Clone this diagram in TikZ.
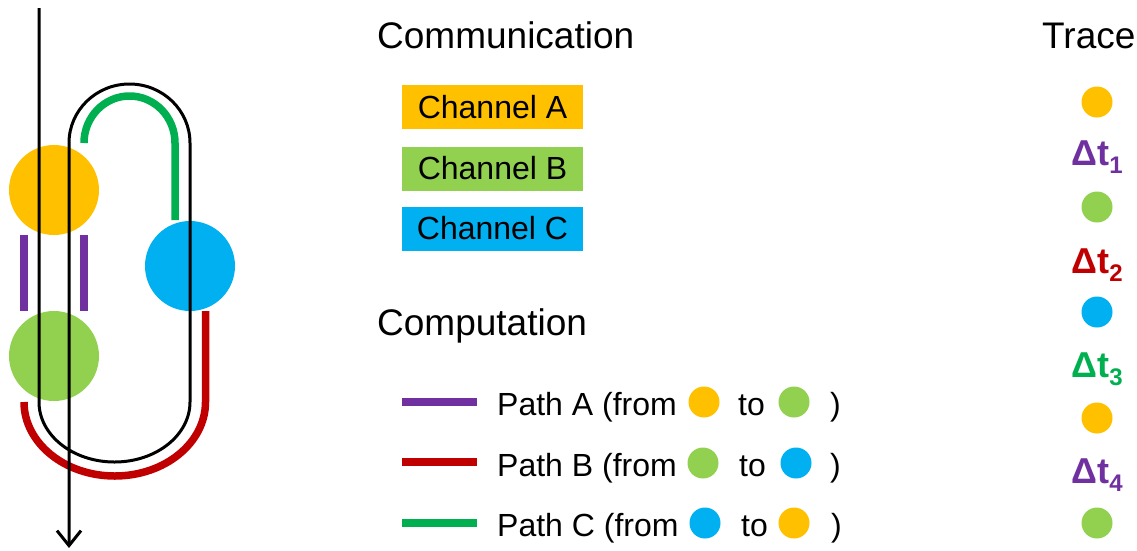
\documentclass[tikz,border=0pt]{standalone}
\usepackage{fontspec}
\setmainfont{Liberation Sans}
\usetikzlibrary{arrows.meta}

\definecolor{cyellow}{HTML}{FFC000}
\definecolor{cgreen}{HTML}{92D050}
\definecolor{cblue}{HTML}{00B0F0}
\definecolor{cpurple}{HTML}{7030A0}
\definecolor{cred}{HTML}{C00000}
\definecolor{cpath}{HTML}{00B050}

\tikzset{
  bigdot/.style={circle, inner sep=0pt, minimum size=90pt, fill=#1},
  smalldot/.style={circle, inner sep=0pt, minimum size=31pt, fill=#1},
  pathline/.style={line width=7.5pt, draw=#1},
  loopline/.style={line width=3pt, draw=black},
  heading/.style={anchor=base west, inner sep=0pt, font=\fontsize{37}{40}\selectfont},
  label/.style={anchor=base west, inner sep=0pt, font=\fontsize{32}{36}\selectfont},
  chanbox/.style={fill=#1, minimum width=181pt, minimum height=44pt, inner sep=0pt,
                  font=\fontsize{32}{36}\selectfont},
  delta/.style={anchor=base, inner sep=0pt, text=#1,
                font=\fontsize{36}{40}\selectfont\bfseries},
}
\newcommand{\dsub}[1]{\raisebox{-8pt}{\fontsize{24}{24}\selectfont #1}}

\begin{document}
\begin{tikzpicture}[x=1pt, y=-1pt]
\useasboundingbox (0,0) rectangle (1137,550);

% ---- the ring of channels ----
\node[bigdot=cyellow] (A) at (54,190) {};
\node[bigdot=cgreen]  (B) at (54,356) {};
\node[bigdot=cblue]   (C) at (190,266) {};

% computation paths between channels
\draw[pathline=cpurple] (24,235) -- (24,311);
\draw[pathline=cpurple] (84,235) -- (84,311);
\draw[pathline=cred] (205.5,311) -- (205.5,402)
   arc[start angle=0, end angle=-180, x radius=90.75pt, y radius=74pt];
\draw[pathline=cpath] (84,143)
   arc[start angle=180, end angle=0, x radius=45.5pt, y radius=47pt] -- (175,220);

% the thread looping through the channels
\coordinate (in)  at (39,8);
\coordinate (out) at (69,548);
\draw[loopline, -{Straight Barb[length=15pt, width=24pt, line width=3pt]}]
   (in) -- (39,402)
   arc[start angle=180, end angle=360, x radius=75.5pt, y radius=60pt]
   -- (190,143)
   arc[start angle=0, end angle=180, x radius=60.5pt, y radius=59pt]
   -- (out);

% ---- communication ----
\node[heading] (comm) at (377,48) {Communication};
\node[chanbox=cyellow] (chA) at (492.5,107) {Channel A};
\node[chanbox=cgreen]  (chB) at (492.5,168.5) {Channel B};
\node[chanbox=cblue]   (chC) at (492.5,228.5) {Channel C};

% ---- computation ----
\node[heading] (comp) at (377,335) {Computation};

\draw[pathline=cpurple] (402,402) -- (477,402);
\node[label] (pA) at (497,415) {Path A (from};
\node[smalldot=cyellow] (pAf) at (704,402) {};
\node[label] (pAt) at (738,415) {to};
\node[smalldot=cgreen] (pAe) at (794,402) {};
\node[label] (pAc) at (830,415) {)};

\draw[pathline=cred] (402,462) -- (477,462);
\node[label] (pB) at (497,476) {Path B (from};
\node[smalldot=cgreen] (pBf) at (703,463) {};
\node[label] (pBt) at (739,476) {to};
\node[smalldot=cblue] (pBe) at (796,463) {};
\node[label] (pBc) at (830,476) {)};

\draw[pathline=cpath] (402,523) -- (477,523);
\node[label] (pC) at (497,536) {Path C (from};
\node[smalldot=cblue] (pCf) at (705,523) {};
\node[label] (pCt) at (741,536) {to};
\node[smalldot=cyellow] (pCe) at (794,523) {};
\node[label] (pCc) at (831,536) {)};

% ---- trace ----
\node[heading] (trace) at (1042,48) {Trace};
\node[smalldot=cyellow] (t1) at (1097,102) {};
\node[delta=cpurple] (d1) at (1097,165) {Δt\dsub{1}};
\node[smalldot=cgreen]  (t2) at (1097,207) {};
\node[delta=cred]    (d2) at (1097,273) {Δt\dsub{2}};
\node[smalldot=cblue]   (t3) at (1097,312) {};
\node[delta=cpath]   (d3) at (1097,377) {Δt\dsub{3}};
\node[smalldot=cyellow] (t4) at (1097,418) {};
\node[delta=cpurple] (d4) at (1097,483) {Δt\dsub{4}};
\node[smalldot=cgreen]  (t5) at (1097,523) {};
\end{tikzpicture}
\end{document}
